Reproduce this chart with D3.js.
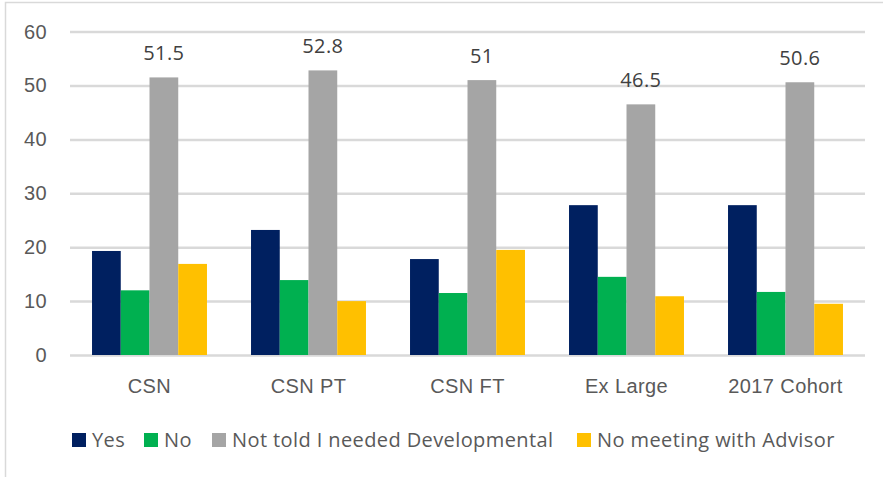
<!DOCTYPE html>
<html>
<head>
<meta charset="utf-8">
<script src="https://cdn.jsdelivr.net/npm/d3@7"></script>
<style>
  body { margin: 0; background: #fff; }
  svg { display: block; font-family: 'Open Sans', Lato, sans-serif; letter-spacing: 0.4px; }
</style>
</head>
<body>
<svg width="883" height="477"></svg>
<script>

let categories = ['CSN', 'CSN PT', 'CSN FT', 'Ex Large', '2017 Cohort']
let series = ['Yes', 'No', 'Not told I needed Developmental', 'No meeting with Advisor']
let colors = ['#002060', '#00b050', '#a5a5a5', '#ffc000']

let yes = [19.3, 23.2, 17.8, 27.8, 27.8]
let no = [12.0, 13.9, 11.5, 14.5, 11.7]
let notTold = [51.5, 52.8, 51, 46.5, 50.6]
let noMeeting = [16.9, 10.0, 19.5, 10.9, 9.5]

let yTicks = [0, 10, 20, 30, 40, 50, 60]

let values = [yes, no, notTold, noMeeting]

let svg = d3.select('svg')

// chart area border (only top and left edges show in the crop)
svg.append('rect')
  .attr('x', 5.5)
  .attr('y', 2.5)
  .attr('width', 900)
  .attr('height', 500)
  .attr('fill', 'none')
  .attr('stroke', '#d9d9d9')
  .attr('stroke-width', 1.5)

let plotLeft = 70, plotRight = 865, plotTop = 31.6, plotBottom = 355
let fontSize = 20

let x0 = d3.scaleBand()
  .domain(categories)
  .range([plotLeft, plotRight])
  .paddingInner(0.277)
  .paddingOuter(0.1385)

let x1 = d3.scaleBand()
  .domain(series)
  .range([0, x0.bandwidth()])

let y = d3.scaleLinear()
  .domain([0, 60])
  .range([plotBottom, plotTop])

let yAxis = svg.append('g')
  .attr('transform', `translate(${plotLeft},0)`)
  .call(d3.axisLeft(y).tickValues(yTicks).tickSize(-(plotRight - plotLeft)).tickPadding(23))

yAxis.select('.domain').remove()
yAxis.selectAll('.tick line')
  .attr('stroke', '#d9d9d9')
  .attr('stroke-width', 2.5)
yAxis.selectAll('.tick text')
  .attr('fill', '#595959')
  .attr('font-size', fontSize)

let groups = svg.append('g')
  .selectAll('g')
  .data(categories)
  .enter().append('g')
  .attr('transform', d => `translate(${x0(d)},0)`)

groups.selectAll('rect')
  .data((d, i) => series.map((s, j) => ({ s: s, v: values[j][i], c: colors[j] })))
  .enter().append('rect')
  .attr('x', d => x1(d.s))
  .attr('y', d => y(d.v))
  .attr('width', x1.bandwidth())
  .attr('height', d => plotBottom - y(d.v))
  .attr('fill', d => d.c)

// data labels only on the grey series
groups.append('text')
  .attr('x', x1(series[2]) + x1.bandwidth() / 2)
  .attr('y', (d, i) => y(notTold[i]) - 17)
  .attr('text-anchor', 'middle')
  .attr('fill', '#404040')
  .attr('font-size', fontSize)
  .text((d, i) => notTold[i])

let xAxis = svg.append('g')
  .attr('transform', `translate(0,${plotBottom})`)
  .call(d3.axisBottom(x0).tickSize(0).tickPadding(24))

xAxis.select('.domain').remove()
xAxis.selectAll('.tick text')
  .attr('fill', '#595959')
  .attr('font-size', fontSize)

let legendX = [72, 144, 212, 577]

let legend = svg.append('g')
  .selectAll('g')
  .data(series)
  .enter().append('g')
  .attr('transform', (d, i) => `translate(${legendX[i]},433)`)

legend.append('rect')
  .attr('width', 14)
  .attr('height', 14)
  .attr('fill', (d, i) => colors[i])

legend.append('text')
  .attr('x', 20)
  .attr('y', 14)
  .attr('fill', '#595959')
  .attr('font-size', fontSize)
  .text(d => d)

</script>
</body>
</html>
